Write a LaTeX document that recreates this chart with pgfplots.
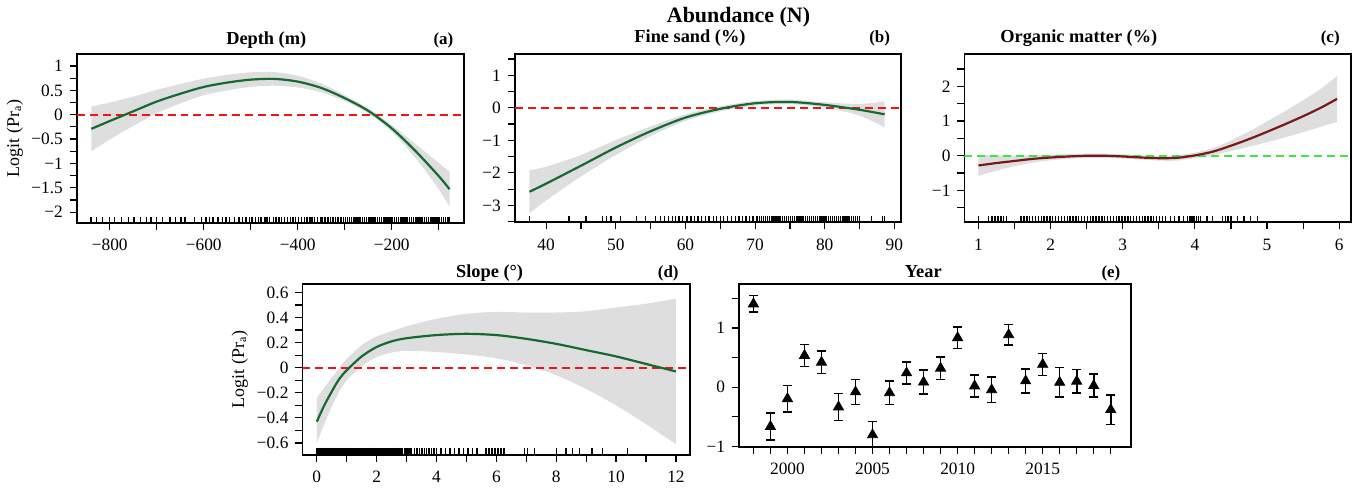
\documentclass[border=0pt]{standalone}
\usepackage{fontspec}
\setmainfont{Liberation Serif}
\usepackage{pgfplots}
\usepackage{pgfplotstable}
\pgfplotsset{compat=1.18}
\usepgfplotslibrary{fillbetween}

\definecolor{fitgreen}{RGB}{22,105,48}
\definecolor{fitred}{RGB}{120,25,25}
\definecolor{bandgray}{RGB}{222,222,222}
\definecolor{zerogreen}{RGB}{60,230,70}
\definecolor{zerored}{RGB}{240,20,20}

\newcommand{\n}[1]{\textrm{\textminus#1}}
\newcommand{\p}[1]{\textrm{#1}}

\pgfplotsset{gam/.style={
  scale only axis, anchor=south west,
  axis line style={line width=0.9pt},
  tick pos=left, tick align=outside,
  major tick length=3.5pt, minor tick length=3.5pt,
  tick style={black, line width=0.6pt},
  tick label style={font=\fontsize{8.7}{9}\selectfont},
  xticklabel style={yshift=-1.2pt},
  scaled ticks=false,
  ylabel style={font=\fontsize{9}{10}\selectfont, anchor=south},
},
rug/.style={only marks, mark=|, mark size=1.5pt, mark options={line width=0.7pt, yshift=1.5pt}},
zero/.style={draw=zerored, line width=0.85pt, dash pattern=on 4pt off 2.5pt},
}

% depth: x, fit, lower, upper
\pgfplotstableread{
x     y      lo     hi
-839  -0.29  -0.75  0.17
-800  -0.13  -0.51  0.25
-750  0.07   -0.23  0.37
-700  0.27   0.03   0.51
-650  0.43   0.23   0.63
-600  0.57   0.40   0.74
-550  0.66   0.50   0.82
-500  0.72   0.57   0.87
-450  0.735  0.595  0.875
-400  0.68   0.56   0.80
-350  0.55   0.46   0.64
-300  0.34   0.28   0.40
-250  0.08   0.03   0.13
-200  -0.28  -0.35  -0.21
-150  -0.74  -0.88  -0.60
-100  -1.26  -1.53  -0.99
-77   -1.53  -1.89  -1.17
}\tA

% fine sand
\pgfplotstableread{
x     y      lo     hi
37.6  -2.58  -3.24  -1.92
40    -2.33  -2.85  -1.81
45    -1.78  -2.11  -1.45
50    -1.22  -1.45  -0.99
55    -0.72  -0.87  -0.57
60    -0.30  -0.40  -0.20
65    -0.03  -0.11  0.05
70    0.14   0.07   0.21
75    0.18   0.11   0.25
80    0.09   0.01   0.17
85    -0.06  -0.24  0.12
88.6  -0.20  -0.60  0.20
}\tB

% organic matter
\pgfplotstableread{
x     y      lo     hi
1.0   -0.28  -0.58  0.02
1.25  -0.21  -0.43  0.01
1.5   -0.15  -0.30  0.00
1.75  -0.09  -0.20  0.02
2.0   -0.05  -0.13  0.03
2.25  -0.02  -0.09  0.05
2.5   0.00   -0.06  0.06
2.75  0.00   -0.06  0.06
3.0   -0.02  -0.08  0.04
3.25  -0.05  -0.11  0.01
3.5   -0.07  -0.14  0.00
3.75  -0.06  -0.14  0.02
4.0   0.01   -0.07  0.09
4.25  0.12   0.02   0.22
4.5   0.29   0.14   0.44
4.75  0.48   0.26   0.70
5.0   0.69   0.39   0.99
5.25  0.91   0.53   1.29
5.5   1.14   0.68   1.60
5.75  1.39   0.84   1.94
5.97  1.64   0.98   2.30
}\tC

% slope
\pgfplotstableread{
x     y      lo     hi
0     -0.43  -0.60  -0.24
0.25  -0.30  -0.45  -0.16
0.5   -0.19  -0.31  -0.08
0.75  -0.09  -0.19  0.00
1.0   -0.02  -0.10  0.07
1.5   0.09   0.01   0.18
2.0   0.165  0.085  0.25
2.5   0.21   0.12   0.29
3.0   0.235  0.135  0.33
4.0   0.26   0.125  0.39
5.0   0.27   0.105  0.43
6.0   0.26   0.075  0.445
7.0   0.23   0.02   0.44
8.0   0.19   -0.06  0.44
9.0   0.14   -0.17  0.45
10.0  0.09   -0.30  0.48
11.0  0.03   -0.45  0.51
12.0  -0.03  -0.61  0.55
}\tD

\begin{document}
\begin{tikzpicture}

% (a) Depth
\begin{axis}[gam, at={(36.5pt,131.75pt)}, width=194pt, height=84.75pt,
  xmin=-870, xmax=-47, ymin=-2.22, ymax=1.25,
  xtick={-800,-600,-400,-200}, xticklabels={\n{800},\n{600},\n{400},\n{200}},
  minor xtick={-700,-500,-300,-100},
  ytick={-2,-1.5,-1,-0.5,0,0.5,1}, yticklabels={\n{2},\n{1.5},\n{1},\n{0.5},\p{0},\p{0.5},\p{1}},
  minor ytick={-1.75,-1.25,-0.75,-0.25,0.25,0.75},
  ylabel={Logit (Pr\textsubscript{a})},
  ylabel style={at={(axis description cs:-0.121,0.5)}},
]
\addplot[name path=hiA, draw=none, smooth] table[x=x,y=hi]{\tA};
\addplot[name path=loA, draw=none, smooth] table[x=x,y=lo]{\tA};
\addplot[fill=bandgray, draw=none] fill between[of=hiA and loA];
\addplot[zero] coordinates {(-870,0) (-47,0)};
\addplot[fitgreen, line width=1.1pt, smooth] table[x=x,y=y]{\tA};
\addplot[rug] coordinates {
(-840,-2.22)(-828,-2.22)(-815,-2.22)(-800,-2.22)(-790,-2.22)(-775,-2.22)(-760,-2.22)(-748,-2.22)(-735,-2.22)(-722,-2.22)
(-712,-2.22)(-700,-2.22)(-688,-2.22)(-672,-2.22)(-660,-2.22)(-648,-2.22)(-640,-2.22)(-620,-2.22)(-605,-2.22)(-595,-2.22)
(-588,-2.22)(-580,-2.22)(-570,-2.22)(-560,-2.22)(-553,-2.22)(-545,-2.22)(-535,-2.22)(-525,-2.22)(-517,-2.22)(-510,-2.22)
(-503,-2.22)(-497,-2.22)(-490,-2.22)(-484,-2.22)(-478,-2.22)(-470,-2.22)(-465,-2.22)(-460,-2.22)(-452,-2.22)(-446,-2.22)
(-440,-2.22)(-435,-2.22)(-428,-2.22)(-422,-2.22)(-416,-2.22)(-410,-2.22)(-405,-2.22)(-398,-2.22)(-392,-2.22)(-386,-2.22)
(-380,-2.22)(-374,-2.22)(-370,-2.22)(-364,-2.22)(-358,-2.22)(-352,-2.22)(-348,-2.22)(-342,-2.22)(-336,-2.22)(-330,-2.22)
(-325,-2.22)(-320,-2.22)(-314,-2.22)(-308,-2.22)(-303,-2.22)(-298,-2.22)(-294,-2.22)(-290,-2.22)(-286,-2.22)(-282,-2.22)
(-278,-2.22)(-274,-2.22)(-270,-2.22)(-266,-2.22)(-262,-2.22)(-258,-2.22)(-254,-2.22)(-250,-2.22)(-246,-2.22)(-242,-2.22)
(-238,-2.22)(-234,-2.22)(-230,-2.22)(-226,-2.22)(-222,-2.22)(-218,-2.22)(-214,-2.22)(-210,-2.22)(-206,-2.22)(-202,-2.22)
(-198,-2.22)(-194,-2.22)(-190,-2.22)(-186,-2.22)(-182,-2.22)(-178,-2.22)(-174,-2.22)(-170,-2.22)(-166,-2.22)(-162,-2.22)
(-158,-2.22)(-154,-2.22)(-150,-2.22)(-146,-2.22)(-142,-2.22)(-138,-2.22)(-134,-2.22)(-130,-2.22)(-126,-2.22)(-122,-2.22)
(-118,-2.22)(-114,-2.22)(-110,-2.22)(-106,-2.22)(-102,-2.22)(-98,-2.22)(-94,-2.22)(-90,-2.22)(-86,-2.22)(-82,-2.22)(-78,-2.22)
};
\end{axis}

% (b) Fine sand
\begin{axis}[gam, at={(256.15pt,132pt)}, width=193.85pt, height=84.5pt,
  xmin=35.5, xmax=91, ymin=-3.52, ymax=1.66,
  xtick={40,50,60,70,80,90}, xticklabels={\p{40},\p{50},\p{60},\p{70},\p{80},\p{90}},
  minor xtick={45,55,65,75,85},
  ytick={-3,-2,-1,0,1}, yticklabels={\n{3},\n{2},\n{1},\p{0},\p{1}},
  minor ytick={-3.5,-2.5,-1.5,-0.5,0.5,1.5},
]
\addplot[name path=hiB, draw=none, smooth] table[x=x,y=hi]{\tB};
\addplot[name path=loB, draw=none, smooth] table[x=x,y=lo]{\tB};
\addplot[fill=bandgray, draw=none] fill between[of=hiB and loB];
\addplot[zero] coordinates {(35.5,0) (91,0)};
\addplot[fitgreen, line width=1.1pt, smooth] table[x=x,y=y]{\tB};
\addplot[rug] coordinates {
(37.6,-3.52)(43.3,-3.52)(45.7,-3.52)(48.1,-3.52)(48.7,-3.52)(49.3,-3.52)(50.7,-3.52)(53.0,-3.52)(54.3,-3.52)(55.7,-3.52)
(56.4,-3.52)(57.0,-3.52)(57.6,-3.52)(58.1,-3.52)(58.6,-3.52)(59.1,-3.52)(59.6,-3.52)(60.2,-3.52)(60.8,-3.52)(61.3,-3.52)
(61.8,-3.52)(62.3,-3.52)(62.9,-3.52)(63.4,-3.52)(64.0,-3.52)(64.5,-3.52)(65.0,-3.52)(65.5,-3.52)(66.0,-3.52)(66.6,-3.52)
(67.2,-3.52)(67.7,-3.52)(68.2,-3.52)(68.7,-3.52)(69.2,-3.52)(69.7,-3.52)(70.3,-3.52)(70.6,-3.52)(70.9,-3.52)(71.2,-3.52)
(71.5,-3.52)(71.8,-3.52)(72.1,-3.52)(72.4,-3.52)(72.7,-3.52)(73.0,-3.52)(73.3,-3.52)(73.6,-3.52)(73.9,-3.52)(74.2,-3.52)
(74.5,-3.52)(74.8,-3.52)(75.1,-3.52)(75.4,-3.52)(75.7,-3.52)(76.0,-3.52)(76.3,-3.52)(76.6,-3.52)(76.9,-3.52)(77.2,-3.52)
(77.5,-3.52)(77.8,-3.52)(78.1,-3.52)(78.4,-3.52)(78.7,-3.52)(79.0,-3.52)(79.3,-3.52)(79.6,-3.52)(79.9,-3.52)(80.2,-3.52)
(80.5,-3.52)(80.8,-3.52)(81.1,-3.52)(81.4,-3.52)(81.7,-3.52)(82.0,-3.52)(82.3,-3.52)(82.6,-3.52)(82.9,-3.52)(83.2,-3.52)
(83.5,-3.52)(83.8,-3.52)(84.1,-3.52)(84.4,-3.52)(84.7,-3.52)(85.0,-3.52)(86.7,-3.52)(88.3,-3.52)(88.6,-3.52)
};
\end{axis}

% (c) Organic matter
\begin{axis}[gam, at={(481.65pt,132pt)}, width=193.7pt, height=84.5pt,
  xmin=0.806, xmax=6.16, ymin=-1.92, ymax=2.94,
  xtick={1,2,3,4,5,6}, xticklabels={\p{1},\p{2},\p{3},\p{4},\p{5},\p{6}},
  minor xtick={1.5,2.5,3.5,4.5,5.5},
  ytick={-1,0,1,2}, yticklabels={\n{1},\p{0},\p{1},\p{2}},
  minor ytick={-1.5,-0.5,0.5,1.5,2.5},
]
\addplot[name path=hiC, draw=none, smooth] table[x=x,y=hi]{\tC};
\addplot[name path=loC, draw=none, smooth] table[x=x,y=lo]{\tC};
\addplot[fill=bandgray, draw=none] fill between[of=hiC and loC];
\addplot[zero, draw=zerogreen, line width=0.95pt] coordinates {(0.806,0) (6.16,0)};
\addplot[fitred, line width=1.1pt, smooth] table[x=x,y=y]{\tC};
\addplot[rug] coordinates {
(1.0,-1.92)(1.14,-1.92)(1.19,-1.92)(1.23,-1.92)(1.27,-1.92)(1.31,-1.92)(1.35,-1.92)(1.39,-1.92)
(1.59,-1.92)(1.63,-1.92)(1.67,-1.92)(1.71,-1.92)(1.75,-1.92)(1.79,-1.92)(1.83,-1.92)(1.87,-1.92)(1.91,-1.92)(1.95,-1.92)
(1.99,-1.92)(2.03,-1.92)(2.07,-1.92)(2.11,-1.92)(2.15,-1.92)(2.19,-1.92)(2.23,-1.92)(2.27,-1.92)(2.31,-1.92)(2.35,-1.92)
(2.39,-1.92)(2.43,-1.92)(2.47,-1.92)(2.51,-1.92)(2.55,-1.92)(2.59,-1.92)(2.63,-1.92)(2.67,-1.92)(2.71,-1.92)(2.75,-1.92)
(2.79,-1.92)(2.83,-1.92)(2.87,-1.92)(2.91,-1.92)(2.95,-1.92)(2.99,-1.92)(3.03,-1.92)(3.07,-1.92)(3.11,-1.92)(3.15,-1.92)
(3.19,-1.92)(3.23,-1.92)(3.27,-1.92)(3.31,-1.92)(3.35,-1.92)(3.39,-1.92)(3.43,-1.92)(3.47,-1.92)(3.51,-1.92)(3.55,-1.92)
(3.59,-1.92)(3.66,-1.92)(3.72,-1.92)(3.78,-1.92)(3.84,-1.92)(3.90,-1.92)(3.93,-1.92)(3.96,-1.92)(3.99,-1.92)(4.02,-1.92)
(4.05,-1.92)(4.08,-1.92)(4.17,-1.92)(4.24,-1.92)(4.38,-1.92)(4.42,-1.92)(4.46,-1.92)(4.50,-1.92)(4.59,-1.92)(4.68,-1.92)
(4.77,-1.92)(4.87,-1.92)
};
\end{axis}

% (d) Slope
\begin{axis}[gam, at={(149.65pt,15.5pt)}, width=194.5pt, height=85.5pt,
  xmin=-0.48, xmax=12.48, ymin=-0.693, ymax=0.666,
  xtick={0,2,4,6,8,10,12}, xticklabels={\p{0},\p{2},\p{4},\p{6},\p{8},\p{10},\p{12}},
  minor xtick={1,3,5,7,9,11},
  ytick={-0.6,-0.4,-0.2,0,0.2,0.4,0.6}, yticklabels={\n{0.6},\n{0.4},\n{0.2},\p{0},\p{0.2},\p{0.4},\p{0.6}},
  minor ytick={-0.5,-0.3,-0.1,0.1,0.3,0.5},
  ylabel={Logit (Pr\textsubscript{a})},
  ylabel style={at={(axis description cs:-0.122,0.5)}},
]
\addplot[name path=hiD, draw=none, smooth] table[x=x,y=hi]{\tD};
\addplot[name path=loD, draw=none, smooth] table[x=x,y=lo]{\tD};
\addplot[fill=bandgray, draw=none] fill between[of=hiD and loD];
\addplot[zero] coordinates {(-0.48,0) (12.48,0)};
\addplot[fitgreen, line width=1.1pt, smooth] table[x=x,y=y]{\tD};
\addplot[rug, mark size=1.7pt, mark options={line width=0.7pt, yshift=1.7pt}] coordinates {
(0,-0.693)(0.03,-0.693)(0.06,-0.693)(0.09,-0.693)(0.12,-0.693)(0.15,-0.693)(0.18,-0.693)(0.21,-0.693)(0.24,-0.693)(0.27,-0.693)
(0.3,-0.693)(0.33,-0.693)(0.36,-0.693)(0.39,-0.693)(0.42,-0.693)(0.45,-0.693)(0.48,-0.693)(0.51,-0.693)(0.54,-0.693)(0.57,-0.693)
(0.6,-0.693)(0.63,-0.693)(0.66,-0.693)(0.69,-0.693)(0.72,-0.693)(0.75,-0.693)(0.81,-0.693)(0.86,-0.693)(0.91,-0.693)(0.96,-0.693)
(1.01,-0.693)(1.06,-0.693)(1.11,-0.693)(1.16,-0.693)(1.21,-0.693)(1.26,-0.693)(1.31,-0.693)(1.36,-0.693)(1.41,-0.693)(1.46,-0.693)
(1.51,-0.693)(1.56,-0.693)(1.61,-0.693)(1.66,-0.693)(1.71,-0.693)(1.76,-0.693)(1.81,-0.693)(1.86,-0.693)(1.91,-0.693)(1.96,-0.693)
(2.01,-0.693)(2.06,-0.693)(2.11,-0.693)(2.16,-0.693)(2.21,-0.693)(2.26,-0.693)(2.31,-0.693)(2.36,-0.693)(2.41,-0.693)(2.46,-0.693)
(2.51,-0.693)(2.56,-0.693)(2.61,-0.693)(2.66,-0.693)(2.71,-0.693)(2.76,-0.693)(2.81,-0.693)(2.86,-0.693)(2.95,-0.693)(3.0,-0.693)
(3.05,-0.693)(3.1,-0.693)(3.15,-0.693)(3.27,-0.693)(3.35,-0.693)(3.43,-0.693)(3.51,-0.693)(3.59,-0.693)(3.67,-0.693)(3.75,-0.693)
(3.83,-0.693)(3.91,-0.693)(4.0,-0.693)(4.15,-0.693)(4.3,-0.693)(4.45,-0.693)(4.6,-0.693)(4.75,-0.693)(4.9,-0.693)(5.05,-0.693)
(5.2,-0.693)(5.35,-0.693)(5.65,-0.693)(5.75,-0.693)(5.85,-0.693)(5.95,-0.693)(6.05,-0.693)(6.15,-0.693)(6.25,-0.693)(6.94,-0.693)
(7.05,-0.693)(7.27,-0.693)(8.0,-0.693)(8.33,-0.693)(8.55,-0.693)(8.77,-0.693)(9.2,-0.693)(9.55,-0.693)(10.39,-0.693)
};
\end{axis}

% (e) Year
\begin{axis}[gam, at={(368.65pt,19.35pt)}, width=196.5pt, height=81.65pt,
  xmin=1997.16, xmax=2020.19, ymin=-1.01, ymax=1.74,
  xtick={2000,2005,2010,2015}, xticklabels={\p{2000},\p{2005},\p{2010},\p{2015}},
  minor xtick={1998,1999,2001,2002,2003,2004,2006,2007,2008,2009,2011,2012,2013,2014,2016,2017,2018,2019},
  ytick={-1,0,1}, yticklabels={\n{1},\p{0},\p{1}},
  minor ytick={-0.5,0.5,1.5},
]
\addplot[black, only marks, mark=triangle*, mark size=2.9pt,
  error bars/.cd, y dir=both, y explicit,
  error bar style={line width=0.8pt},
  error mark options={rotate=90, mark size=2.3pt, line width=0.8pt}]
coordinates {
(1998,1.405) +- (0,0.14)
(1999,-0.665) +- (0,0.225)
(2000,-0.195) +- (0,0.225)
(2001,0.535) +- (0,0.185)
(2002,0.42) +- (0,0.19)
(2003,-0.335) +- (0,0.225)
(2004,-0.08) +- (0,0.21)
(2005,-0.805) +- (0,0.225)
(2006,-0.095) +- (0,0.195)
(2007,0.24) +- (0,0.19)
(2008,0.085) +- (0,0.205)
(2009,0.32) +- (0,0.19)
(2010,0.835) +- (0,0.185)
(2011,0.02) +- (0,0.19)
(2012,-0.045) +- (0,0.215)
(2013,0.885) +- (0,0.175)
(2014,0.105) +- (0,0.205)
(2015,0.385) +- (0,0.185)
(2016,0.08) +- (0,0.25)
(2017,0.10) +- (0,0.20)
(2018,0.025) +- (0,0.195)
(2019,-0.38) +- (0,0.25)
};
\end{axis}

% titles
\node[anchor=base, font=\fontsize{11}{12}\selectfont\bfseries] at (368.35pt,232.15pt) {Abundance (N)};
\begin{scope}[every node/.style={font=\fontsize{9.2}{10}\selectfont\bfseries}]
\node[anchor=base] at (131.5pt,221.3pt) {Depth (m)};
\node[anchor=base] at (344pt,222pt) {Fine sand (\%)};
\node[anchor=base] at (539pt,222pt) {Organic matter (\%)};
\node[anchor=base] at (243.5pt,104.4pt) {Slope (°)};
\node[anchor=base] at (461pt,104.4pt) {Year};
\end{scope}
\begin{scope}[every node/.style={font=\fontsize{8.5}{9}\selectfont\bfseries, anchor=base east, inner sep=0pt}]
\node at (225.5pt,221.3pt) {(a)};
\node at (444.5pt,222pt) {(b)};
\node at (670pt,222pt) {(c)};
\node at (338.5pt,104.4pt) {(d)};
\node at (560pt,104.4pt) {(e)};
\end{scope}
\path[use as bounding box] (0,0) rectangle (676.5pt,243.5pt);
\end{tikzpicture}
\end{document}
